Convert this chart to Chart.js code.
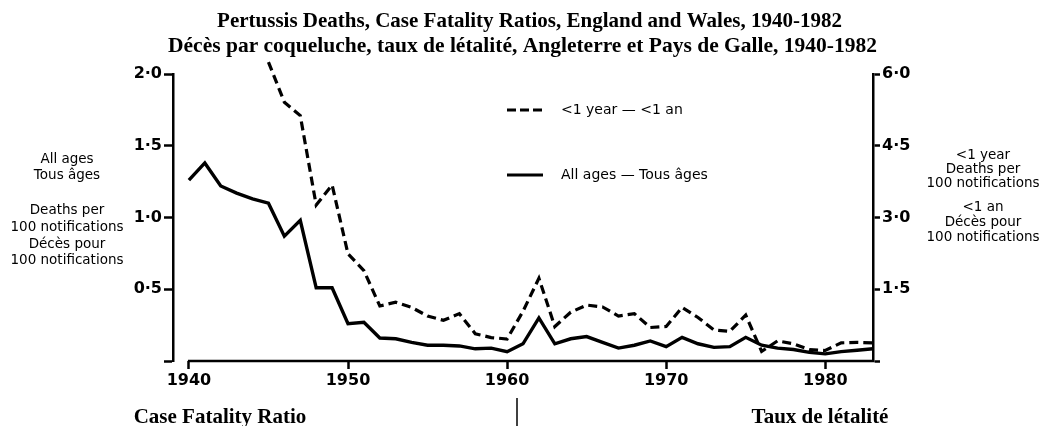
<!DOCTYPE html>
<html>
<head>
<meta charset="utf-8">
<script src="https://cdn.jsdelivr.net/npm/chart.js@4.4.0/dist/chart.umd.min.js"></script>
<style>
    html, body { margin: 0; padding: 0; background: #fff; }
    #wrap { width: 1045px; height: 426px; position: relative; }
</style>
</head>
<body>
<div id="wrap"><canvas id="cfrChart"></canvas></div>
<script>
// Years plotted (x axis)
const years = [
    1940, 1941, 1942, 1943, 1944, 1945, 1946, 1947, 1948, 1949,
    1950, 1951, 1952, 1953, 1954, 1955, 1956, 1957, 1958, 1959,
    1960, 1961, 1962, 1963, 1964, 1965, 1966, 1967, 1968, 1969,
    1970, 1971, 1972, 1973, 1974, 1975, 1976, 1977, 1978, 1979,
    1980, 1981, 1982, 1983
];

// All ages, deaths per 100 notifications (left axis)
const allAges = [
    1.26, 1.38, 1.22, 1.17, 1.13, 1.10, 0.87, 0.98, 0.51, 0.51,
    0.26, 0.27, 0.16, 0.155, 0.13, 0.11, 0.11, 0.105, 0.085, 0.09,
    0.065, 0.12, 0.30, 0.12, 0.155, 0.17, 0.13, 0.09, 0.11, 0.14,
    0.10, 0.165, 0.12, 0.095, 0.10, 0.165, 0.11, 0.09, 0.08, 0.06,
    0.05, 0.065, 0.075, 0.085
];

// <1 year, deaths per 100 notifications (right axis), off the top before 1945
const underOne = [
    null, null, null, null, null, 6.25, 5.41, 5.13, 3.26, 3.68,
    2.24, 1.89, 1.15, 1.23, 1.12, 0.94, 0.85, 0.99, 0.57, 0.49,
    0.46, 1.04, 1.73, 0.72, 1.02, 1.17, 1.13, 0.94, 0.99, 0.70,
    0.72, 1.12, 0.91, 0.65, 0.62, 0.96, 0.20, 0.42, 0.36, 0.24,
    0.22, 0.38, 0.39, 0.38
];

const xTickValues = [1940, 1950, 1960, 1970, 1980];
const xTickLabels = ['1940', '1950', '1960', '1970', '1980'];
const leftTickValues = [0, 0.5, 1.0, 1.5, 2.0];
const leftTickLabels = ['', '0·5', '1·0', '1·5', '2·0'];
const rightTickValues = [0, 1.5, 3.0, 4.5, 6.0];
const rightTickLabels = ['', '1·5', '3·0', '4·5', '6·0'];

const titleLines = [
    'Pertussis Deaths, Case Fatality Ratios, England and Wales, 1940-1982',
    'Décès par coqueluche, taux de létalité, Angleterre et Pays de Galle, 1940-1982'
];
const leftNote = ['All ages', 'Tous âges', 'Deaths per', '100 notifications', 'Décès pour', '100 notifications'];
const rightNote = ['<1 year', 'Deaths per', '100 notifications', '<1 an', 'Décès pour', '100 notifications'];
const legendLabels = ['<1 year — <1 an', 'All ages — Tous âges'];
const footLabels = ['Case Fatality Ratio', 'Taux de létalité'];

const ink = '#000';
const sansFont = '"DejaVu Sans", "Liberation Sans", sans-serif';
const serifFont = '"Liberation Serif", "DejaVu Serif", serif';

Chart.defaults.font.family = sansFont;
Chart.defaults.color = ink;

// texts, legend and the x axis line (it starts at 1940, not at the y axis)
const figureText = {
    id: 'figureText',
    afterDraw(chart) {
        const ctx = chart.ctx;
        const area = chart.chartArea;
        const xs = chart.scales.x;
        ctx.save();

        ctx.strokeStyle = ink;
        ctx.lineWidth = 2.5;
        ctx.beginPath();
        ctx.moveTo(xs.getPixelForValue(xTickValues[0]) - 1, area.bottom);
        ctx.lineTo(area.right + 1, area.bottom);
        ctx.stroke();

        ctx.fillStyle = ink;
        ctx.textAlign = 'center';
        ctx.textBaseline = 'middle';

        ctx.font = 'bold 21px ' + serifFont;
        ctx.fillText(titleLines[0], chart.width / 2 + 7, 22);
        ctx.font = 'bold 21.5px ' + serifFont;
        ctx.fillText(titleLines[1], chart.width / 2, 46);

        ctx.font = '13.5px ' + sansFont;
        const leftY = [159, 175, 210, 227, 244, 260];
        leftNote.forEach((t, i) => ctx.fillText(t, 67, leftY[i]));
        const rightY = [155, 169, 183, 207, 222, 237];
        rightNote.forEach((t, i) => ctx.fillText(t, 983, rightY[i]));

        // legend
        ctx.textAlign = 'left';
        ctx.font = '14px ' + sansFont;
        ctx.lineWidth = 3;
        ctx.setLineDash([9, 4]);
        ctx.beginPath();
        ctx.moveTo(507, 110);
        ctx.lineTo(543, 110);
        ctx.stroke();
        ctx.setLineDash([]);
        ctx.beginPath();
        ctx.moveTo(507, 175);
        ctx.lineTo(543, 175);
        ctx.stroke();
        ctx.fillText(legendLabels[0], 561, 110);
        ctx.fillText(legendLabels[1], 561, 175);

        // footer
        ctx.textAlign = 'center';
        ctx.font = 'bold 21px ' + serifFont;
        ctx.fillText(footLabels[0], 220, 418);
        ctx.fillText(footLabels[1], 820, 418);
        ctx.lineWidth = 1.5;
        ctx.beginPath();
        ctx.moveTo(517, 398);
        ctx.lineTo(517, 426);
        ctx.stroke();

        ctx.restore();
    }
};

const tickFont = { size: 16, weight: 'bold' };

new Chart(document.getElementById('cfrChart'), {
    type: 'line',
    data: {
        datasets: [
            {
                label: legendLabels[0],
                data: years.map((yr, i) => ({ x: yr, y: underOne[i] })),
                yAxisID: 'y2',
                borderColor: ink,
                borderWidth: 3.2,
                borderDash: [9, 5],
                pointRadius: 0,
                tension: 0,
                clip: false
            },
            {
                label: legendLabels[1],
                data: years.map((yr, i) => ({ x: yr, y: allAges[i] })),
                yAxisID: 'y',
                borderColor: ink,
                borderWidth: 3.4,
                pointRadius: 0,
                tension: 0
            }
        ]
    },
    options: {
        responsive: true,
        maintainAspectRatio: false,
        animation: false,
        layout: { padding: { top: 74, left: 0, right: 0, bottom: 0 } },
        plugins: {
            legend: { display: false },
            title: { display: false },
            tooltip: { enabled: false }
        },
        scales: {
            x: {
                type: 'linear',
                min: 1939,
                max: 1983,
                afterBuildTicks: s => { s.ticks = xTickValues.map(v => ({ value: v })); },
                afterFit: s => { s.height = 65; },
                ticks: {
                    autoSkip: false,
                    maxRotation: 0,
                    padding: 2,
                    color: ink,
                    font: tickFont,
                    callback: (v, i) => xTickLabels[i]
                },
                grid: { drawOnChartArea: false, tickLength: 8, tickWidth: 2.5, tickColor: ink },
                border: { display: false }
            },
            y: {
                position: 'left',
                min: 0,
                max: 2,
                afterBuildTicks: s => { s.ticks = leftTickValues.map(v => ({ value: v })); },
                afterFit: s => { s.width = 173; },
                ticks: {
                    autoSkip: false,
                    padding: 2,
                    color: ink,
                    font: tickFont,
                    callback: (v, i) => leftTickLabels[i]
                },
                grid: { drawOnChartArea: false, tickLength: 9, tickWidth: 2.5, tickColor: ink },
                border: { color: ink, width: 2.5 }
            },
            y2: {
                position: 'right',
                min: 0,
                max: 6,
                afterBuildTicks: s => { s.ticks = rightTickValues.map(v => ({ value: v })); },
                afterFit: s => { s.width = 172; },
                ticks: {
                    autoSkip: false,
                    padding: 2,
                    color: ink,
                    font: tickFont,
                    callback: (v, i) => rightTickLabels[i]
                },
                grid: { drawOnChartArea: false, tickLength: 7, tickWidth: 2.5, tickColor: ink },
                border: { color: ink, width: 2.5 }
            }
        }
    },
    plugins: [figureText]
});
</script>
</body>
</html>
